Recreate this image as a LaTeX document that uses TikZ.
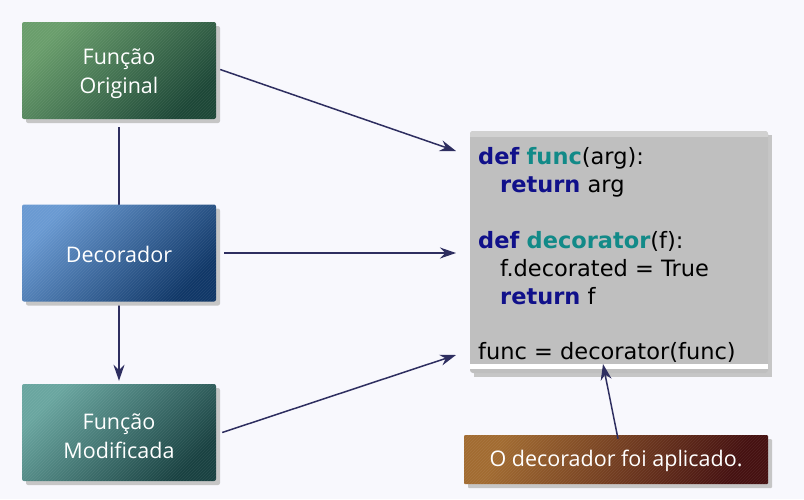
\documentclass[tikz,border=0pt]{standalone}
\usepackage{fontspec}
\setmainfont{Open Sans}
\newfontfamily\codefont{DejaVu Sans}
\usetikzlibrary{arrows.meta,shadows,patterns}
\definecolor{bgc}{HTML}{F8F8FD}
\definecolor{arrc}{HTML}{2E2E60}
\definecolor{kw}{HTML}{10108A}
\definecolor{fn}{HTML}{128A88}
\definecolor{shd}{HTML}{C6C6C6}
\definecolor{gA}{HTML}{6A9E6C}\definecolor{gB}{HTML}{1E4838}
\definecolor{bA}{HTML}{6A9AD2}\definecolor{bB}{HTML}{113868}
\definecolor{tA}{HTML}{6AA6A0}\definecolor{tB}{HTML}{1A4242}
\definecolor{oA}{HTML}{A26C32}\definecolor{oB}{HTML}{461212}
\tikzset{
  x=1pt,y=-1pt,
  box/.style={minimum width=194pt,minimum height=97pt,rounded corners=2pt,
    drop shadow={shadow xshift=4pt,shadow yshift=-4pt,fill=shd,opacity=1},
    inner sep=0pt},
  boxtext/.style={text=white,align=center,inner sep=0pt,font=\fontsize{21.5}{29}\selectfont},
  hatch/.style={pattern=north east lines,pattern color=white,opacity=0.07},
  arr/.style={draw=arrc,line width=1.5pt,-{Stealth[length=16pt,width=11pt]}},
  codeline/.style={anchor=base west,inner sep=0pt,font=\codefont\fontsize{22.5}{28}\selectfont},
}
\newcommand{\kwd}[1]{\textcolor{kw}{\textbf{#1}}}
\newcommand{\fnm}[1]{\textcolor{fn}{\textbf{#1}}}
\begin{document}
\begin{tikzpicture}
\fill[bgc] (0,0) rectangle (804,499);
\useasboundingbox (0,0) rectangle (804,499);
% boxes
\node[box,top color=gA,bottom color=gB,shading angle=45] (orig) at (119,70.5) {};
\fill[hatch,rounded corners=2pt] (orig.south west) rectangle (orig.north east);
\node[boxtext] (origT) at (119,74) {Função\\Original};
\node[box,top color=tA,bottom color=tB,shading angle=45] (mod) at (119,432.5) {};
\fill[hatch,rounded corners=2pt] (mod.south west) rectangle (mod.north east);
\node[boxtext] (modT) at (119,436) {Função\\Modificada};
\draw[arr] ([yshift=-8pt]orig.south) -- ([yshift=3pt]mod.north);
\node[box,top color=bA,bottom color=bB,shading angle=45] (dec) at (119,253) {};
\fill[hatch,rounded corners=2pt] (dec.south west) rectangle (dec.north east);
\node[boxtext] (decT) at (119,254) {Decorador};
% code box
\fill[shd] (474,135) rectangle (772,377);
\node[fill=black!25!white,minimum width=298pt,minimum height=242pt,inner sep=0pt,
  rounded corners=3pt] (code) at (619,252) {};
\fill[white!82!black,rounded corners=3pt] (470,131) rectangle (768,140);
\fill[black!25!white] (470,137) rectangle (768,141);
\fill[white] (470,364) rectangle (768,368.5);
\node[codeline] (c1) at (478,164) {\kwd{def} \fnm{func}(arg):};
\node[codeline] (c2) at (500,192) {\kwd{return} arg};
\node[codeline] (c3) at (478,248) {\kwd{def} \fnm{decorator}(f):};
\node[codeline] (c4) at (500,276) {f.decorated = True};
\node[codeline] (c5) at (500,304) {\kwd{return} f};
\node[codeline] (c6) at (478,359) {func = decorator(func)};
% label
\node[box,minimum width=304pt,minimum height=49pt,rounded corners=1pt,
  top color=oA,bottom color=oB,shading angle=65] (lab) at (616,459.5) {};
\fill[hatch,rounded corners=1pt] (lab.south west) rectangle (lab.north east);
\node[boxtext] (labT) at (616,461) {O decorador foi aplicado.};
% connectors
\coordinate (t1) at (456,151);
\coordinate (t2) at (456,253);
\coordinate (t3) at (456,355);
\coordinate (t4) at (603,364);
\draw[arr] ([xshift=4pt,yshift=1pt]orig.east) -- (t1);
\draw[arr] ([xshift=8pt]dec.east) -- (t2);
\draw[arr] ([xshift=6pt]mod.east) -- (t3);
\draw[arr] ([xshift=2pt,yshift=-4pt]lab.north) -- (t4);
\end{tikzpicture}
\end{document}
